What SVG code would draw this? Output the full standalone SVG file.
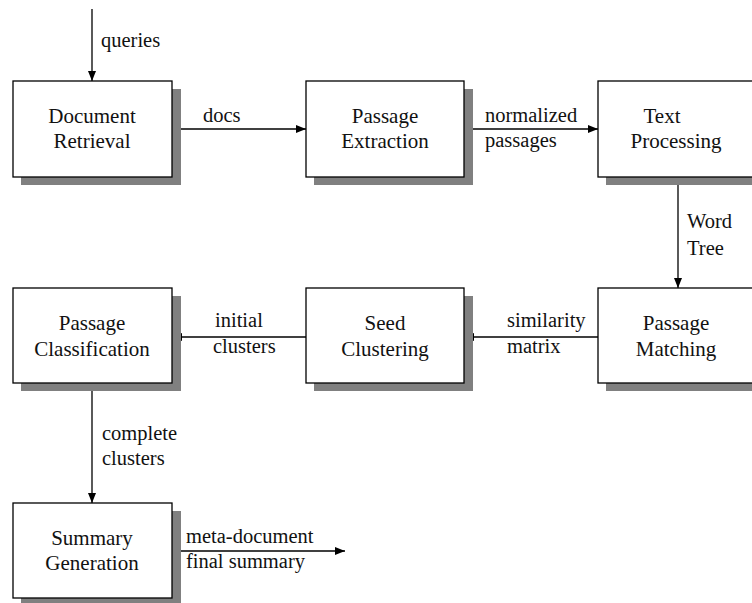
<svg xmlns="http://www.w3.org/2000/svg" width="752" height="603" viewBox="0 0 752 603">
<style>
.shadow{fill:#808080;stroke:none}
.box{fill:#fff;stroke:#000;stroke-width:1.3}
.lbl{font-family:'Liberation Serif','Times New Roman',serif;font-size:20.5px;fill:#111}
.nl{font-family:'Liberation Serif','Times New Roman',serif;font-size:21px;fill:#111;text-anchor:middle}
.edge{stroke:#000;stroke-width:1.3;fill:none;marker-end:url(#ah)}
</style>
<defs>
<marker id="ah" viewBox="0 0 10 8" refX="10" refY="4" markerWidth="10" markerHeight="8" markerUnits="userSpaceOnUse" orient="auto">
<path d="M0,0 L10,4 L0,8 z" fill="#000"/>
</marker>
</defs>
<rect width="752" height="603" fill="#fff"/>
<g id="connectors">
<line class="edge" x1="92" y1="9" x2="92" y2="81"/>
<text class="lbl" x="101" y="47">queries</text>
<line class="edge" x1="172" y1="129" x2="306" y2="129"/>
<text class="lbl" x="203" y="122">docs</text>
<line class="edge" x1="464" y1="129" x2="598" y2="129"/>
<text class="lbl" x="485" y="122">normalized</text>
<text class="lbl" x="485" y="147">passages</text>
<line class="edge" x1="678" y1="177" x2="678" y2="288"/>
<text class="lbl" x="687" y="228">Word</text>
<text class="lbl" x="687" y="255">Tree</text>
<line class="edge" x1="598" y1="337" x2="464" y2="337"/>
<text class="lbl" x="507" y="327">similarity</text>
<text class="lbl" x="507" y="353">matrix</text>
<line class="edge" x1="306" y1="337" x2="172" y2="337"/>
<text class="lbl" x="215" y="327">initial</text>
<text class="lbl" x="213" y="353">clusters</text>
<line class="edge" x1="92" y1="383" x2="92" y2="503"/>
<text class="lbl" x="102" y="440">complete</text>
<text class="lbl" x="102" y="465">clusters</text>
<line class="edge" x1="172" y1="551" x2="345" y2="551"/>
<text class="lbl" x="186" y="543">meta-document</text>
<text class="lbl" x="186" y="568">final summary</text>
</g>
<g id="doc-retrieval">
<rect class="shadow" x="21" y="89" width="160" height="96"/>
<rect class="box" x="13" y="81" width="159" height="96"/>
<text class="nl" x="92" y="123">Document</text>
<text class="nl" x="92" y="148">Retrieval</text>
</g>
<g id="passage-extraction">
<rect class="shadow" x="314" y="89" width="159" height="96"/>
<rect class="box" x="306" y="81" width="158" height="96"/>
<text class="nl" x="385" y="123">Passage</text>
<text class="nl" x="385" y="148">Extraction</text>
</g>
<g id="text-processing">
<rect class="shadow" x="606" y="89" width="159" height="96"/>
<rect class="box" x="598" y="81" width="159" height="96"/>
<text class="nl" x="662" y="123">Text</text>
<text class="nl" x="676" y="148">Processing</text>
</g>
<g id="passage-matching">
<rect class="shadow" x="606" y="296" width="159" height="95"/>
<rect class="box" x="598" y="288" width="159" height="95"/>
<text class="nl" x="676" y="330">Passage</text>
<text class="nl" x="676" y="356">Matching</text>
</g>
<g id="seed-clustering">
<rect class="shadow" x="314" y="296" width="159" height="95"/>
<rect class="box" x="306" y="288" width="158" height="95"/>
<text class="nl" x="385" y="330">Seed</text>
<text class="nl" x="385" y="356">Clustering</text>
</g>
<g id="passage-classification">
<rect class="shadow" x="21" y="296" width="160" height="95"/>
<rect class="box" x="13" y="288" width="159" height="95"/>
<text class="nl" x="92" y="330">Passage</text>
<text class="nl" x="92" y="356">Classification</text>
</g>
<g id="summary-generation">
<rect class="shadow" x="21" y="511" width="160" height="95"/>
<rect class="box" x="13" y="503" width="159" height="95"/>
<text class="nl" x="92" y="545">Summary</text>
<text class="nl" x="92" y="570">Generation</text>
</g>
</svg>
